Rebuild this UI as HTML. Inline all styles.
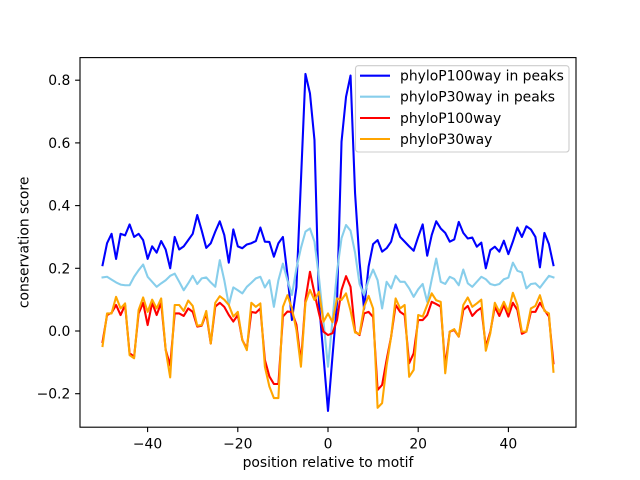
<!DOCTYPE html>
<html><head><meta charset="utf-8"><style>
html,body{margin:0;padding:0;background:#fff;}
svg{display:block;}
text{font-family:"DejaVu Sans","Liberation Sans",sans-serif;fill:#000;}
</style></head><body>
<svg width="640" height="480" viewBox="0 0 640 480" xmlns="http://www.w3.org/2000/svg">
<rect x="0" y="0" width="640" height="480" fill="#fff"/>
<g transform="translate(328,331) scale(4.509,-313.5)" fill="none" stroke-linejoin="round" stroke-linecap="square">
<polyline vector-effect="non-scaling-stroke" stroke="#0000ff" stroke-width="2.08" points="-50,0.21 -49,0.28 -48,0.31 -47,0.23 -46,0.31 -45,0.305 -44,0.34 -43,0.30 -42,0.31 -41,0.29 -40,0.23 -39,0.27 -38,0.25 -37,0.287 -36,0.26 -35,0.20 -34,0.30 -33,0.26 -32,0.27 -31,0.29 -30,0.31 -29,0.37 -28,0.32 -27,0.265 -26,0.28 -25,0.317 -24,0.35 -23,0.306 -22,0.218 -21,0.324 -20,0.27 -19,0.264 -18,0.276 -17,0.28 -16,0.287 -15,0.33 -14,0.285 -13,0.284 -12,0.237 -11,0.28 -10,0.30 -9,0.18 -8,0.035 -7,0.14 -6,0.48 -5,0.82 -4,0.758 -3,0.609 -2,0.09 -1,-0.08 0,-0.255 1,-0.08 2,0.09 3,0.604 4,0.747 5,0.815 6,0.44 7,0.22 8,0.07 9,0.205 10,0.277 11,0.29 12,0.253 13,0.264 14,0.285 15,0.34 16,0.30 17,0.285 18,0.27 19,0.256 20,0.30 21,0.34 22,0.24 23,0.306 24,0.35 25,0.327 26,0.313 27,0.285 28,0.292 29,0.348 30,0.313 31,0.295 32,0.298 33,0.269 34,0.282 35,0.2 36,0.258 37,0.269 38,0.253 39,0.288 40,0.245 41,0.285 42,0.33 43,0.3 44,0.334 45,0.324 46,0.3 47,0.203 48,0.313 49,0.277 50,0.21"/>
<polyline vector-effect="non-scaling-stroke" stroke="#87ceeb" stroke-width="2.08" points="-50,0.171 -49,0.173 -48,0.164 -47,0.155 -46,0.148 -45,0.146 -44,0.146 -43,0.173 -42,0.194 -41,0.212 -40,0.173 -39,0.157 -38,0.141 -37,0.152 -36,0.162 -35,0.176 -34,0.183 -33,0.157 -32,0.13 -31,0.152 -30,0.176 -29,0.15 -28,0.168 -27,0.171 -26,0.155 -25,0.141 -24,0.226 -23,0.162 -22,0.083 -21,0.139 -20,0.13 -19,0.12 -18,0.141 -17,0.154 -16,0.168 -15,0.173 -14,0.139 -13,0.162 -12,0.077 -11,0.162 -10,0.215 -9,0.162 -8,0.115 -7,0.2 -6,0.265 -5,0.317 -4,0.327 -3,0.285 -2,0.17 -1,0.03 0,-0.114 1,0.035 2,0.19 3,0.296 4,0.338 5,0.32 6,0.25 7,0.15 8,0.115 9,0.162 10,0.196 11,0.162 12,0.072 13,0.157 14,0.136 15,0.176 16,0.157 17,0.157 18,0.136 19,0.109 20,0.133 21,0.15 22,0.093 23,0.164 24,0.231 25,0.157 26,0.15 27,0.173 28,0.166 29,0.146 30,0.196 31,0.152 32,0.141 33,0.157 34,0.173 35,0.165 36,0.15 37,0.146 38,0.15 39,0.165 40,0.17 41,0.218 42,0.192 43,0.187 44,0.136 45,0.15 46,0.152 47,0.138 48,0.157 49,0.176 50,0.171"/>
<polyline vector-effect="non-scaling-stroke" stroke="#ff0000" stroke-width="2.08" points="-50,-0.035 -49,0.051 -48,0.058 -47,0.083 -46,0.051 -45,0.083 -44,-0.071 -43,-0.082 -42,0.056 -41,0.09 -40,0.019 -39,0.09 -38,0.051 -37,0.09 -36,-0.06 -35,-0.11 -34,0.056 -33,0.056 -32,0.048 -31,0.072 -30,0.061 -29,0.014 -28,0.017 -27,0.056 -26,-0.04 -25,0.078 -24,0.09 -23,0.077 -22,0.051 -21,0.03 -20,0.051 -19,-0.029 -18,-0.056 -17,0.061 -16,0.058 -15,0.072 -14,-0.092 -13,-0.145 -12,-0.169 -11,-0.169 -10,0.046 -9,0.062 -8,0.061 -7,0.02 -6,-0.1 -5,0.099 -4,0.189 -3,0.12 -2,0.056 -1,-0.002 0,-0.013 1,-0.007 2,0.035 3,0.131 4,0.175 5,0.141 6,-0.002 7,-0.013 8,0.056 9,0.061 10,0.045 11,-0.188 12,-0.172 13,-0.092 14,-0.018 15,0.083 16,0.061 17,0.051 18,-0.103 19,-0.071 20,0.035 21,0.035 22,0.051 23,0.093 24,0.086 25,0.078 26,-0.114 27,-0.002 28,0.003 29,-0.018 30,0.067 31,0.08 32,0.048 33,0.064 34,0.074 35,-0.05 36,-0.002 37,0.077 38,0.048 39,0.083 40,0.046 41,0.09 42,0.067 43,-0.009 44,-0.002 45,0.061 46,0.061 47,0.09 48,0.067 49,0.046 50,-0.103"/>
<polyline vector-effect="non-scaling-stroke" stroke="#ffa500" stroke-width="2.08" points="-50,-0.048 -49,0.056 -48,0.056 -47,0.109 -46,0.072 -45,0.088 -44,-0.077 -43,-0.087 -42,0.067 -41,0.107 -40,0.061 -39,0.1 -38,0.072 -37,0.104 -36,-0.06 -35,-0.148 -34,0.083 -33,0.083 -32,0.064 -31,0.097 -30,0.08 -29,0.017 -28,0.019 -27,0.064 -26,-0.04 -25,0.09 -24,0.111 -23,0.1 -22,0.083 -21,0.046 -20,0.061 -19,-0.029 -18,-0.061 -17,0.09 -16,0.077 -15,0.088 -14,-0.114 -13,-0.177 -12,-0.214 -11,-0.214 -10,0.077 -9,0.114 -8,0.072 -7,0.003 -6,-0.114 -5,0.09 -4,0.131 -3,0.099 -2,0.125 -1,0.03 0,0.056 1,0.028 2,0.104 3,0.099 4,0.12 5,0.065 6,-0.005 7,-0.01 8,0.077 9,0.112 10,0.072 11,-0.245 12,-0.23 13,-0.11 14,-0.018 15,0.104 16,0.072 17,0.083 18,-0.146 19,-0.124 20,0.051 21,0.046 22,0.083 23,0.12 24,0.098 25,0.093 26,-0.135 27,-0.002 28,0.006 29,-0.018 30,0.083 31,0.107 32,0.077 33,0.088 34,0.1 35,-0.063 36,-0.007 37,0.09 38,0.061 39,0.093 40,0.061 41,0.122 42,0.083 43,-0.002 44,-0.002 45,0.072 46,0.08 47,0.114 48,0.064 49,0.056 50,-0.13"/>
</g>
<!-- axes frame -->
<rect x="80" y="57.6" width="496" height="369.6" fill="none" stroke="#000" stroke-width="1.11"/>
<!-- x ticks -->
<g stroke="#000" stroke-width="1.11">
<line x1="147.6" y1="427.2" x2="147.6" y2="432.1"/>
<line x1="237.8" y1="427.2" x2="237.8" y2="432.1"/>
<line x1="328" y1="427.2" x2="328" y2="432.1"/>
<line x1="418.2" y1="427.2" x2="418.2" y2="432.1"/>
<line x1="508.4" y1="427.2" x2="508.4" y2="432.1"/>
<line x1="75.1" y1="393.7" x2="80" y2="393.7"/>
<line x1="75.1" y1="331" x2="80" y2="331"/>
<line x1="75.1" y1="268.3" x2="80" y2="268.3"/>
<line x1="75.1" y1="205.6" x2="80" y2="205.6"/>
<line x1="75.1" y1="142.9" x2="80" y2="142.9"/>
<line x1="75.1" y1="80.2" x2="80" y2="80.2"/>
</g>
<g font-size="13.9" text-anchor="middle">
<text x="147.6" y="448.3">−40</text>
<text x="237.8" y="448.3">−20</text>
<text x="328" y="448.3">0</text>
<text x="418.2" y="448.3">20</text>
<text x="508.4" y="448.3">40</text>
</g>
<g font-size="13.9" text-anchor="end">
<text x="70.3" y="398.7">−0.2</text>
<text x="70.3" y="336">0.0</text>
<text x="70.3" y="273.3">0.2</text>
<text x="70.3" y="210.6">0.4</text>
<text x="70.3" y="147.9">0.6</text>
<text x="70.3" y="85.2">0.8</text>
</g>
<text x="328" y="467" font-size="13.9" text-anchor="middle">position relative to motif</text>
<text transform="translate(28.5,242.4) rotate(-90)" font-size="13.9" text-anchor="middle">conservation score</text>
<!-- legend -->
<rect x="355.5" y="65.7" width="213.5" height="86.3" rx="2.8" ry="2.8" fill="#fff" fill-opacity="0.8" stroke="#cccccc" stroke-width="1.11"/>
<g stroke-width="2.08">
<line x1="360" y1="75.7" x2="390" y2="75.7" stroke="#0000ff"/>
<line x1="360" y1="96.7" x2="390" y2="96.7" stroke="#87ceeb"/>
<line x1="360" y1="118" x2="390" y2="118" stroke="#ff0000"/>
<line x1="360" y1="139" x2="390" y2="139" stroke="#ffa500"/>
</g>
<g font-size="13.9">
<text x="400" y="80.5">phyloP100way in peaks</text>
<text x="400" y="101.5">phyloP30way in peaks</text>
<text x="400" y="122.8">phyloP100way</text>
<text x="400" y="143.8">phyloP30way</text>
</g>
</svg>
</body></html>
